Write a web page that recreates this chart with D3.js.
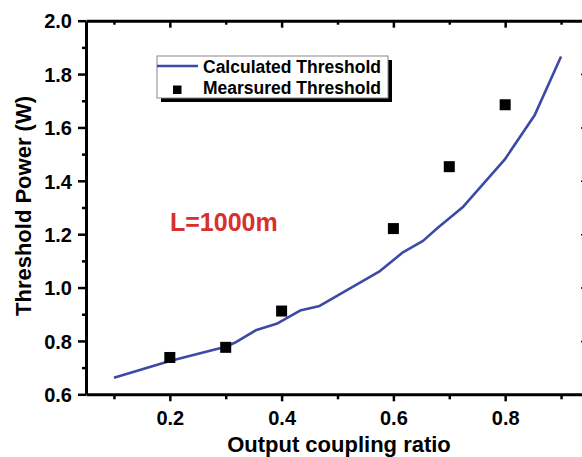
<!DOCTYPE html>
<html>
<head>
<meta charset="utf-8">
<script src="https://cdn.jsdelivr.net/npm/d3@7"></script>
<style>
  html, body { margin: 0; padding: 0; background: #fff; }
  svg { display: block; font-family: "Liberation Sans", Arial, sans-serif; font-weight: bold; }
</style>
</head>
<body>
<div id="chart"></div>
<script>
// Calculated threshold curve (output coupling ratio, threshold power in W)
const calcRatio = [0.1, 0.2, 0.3, 0.316, 0.355, 0.391, 0.433, 0.468, 0.576, 0.617, 0.653, 0.68, 0.725, 0.799, 0.853, 0.9];
const calcPower = [0.662, 0.725, 0.778, 0.793, 0.841, 0.864, 0.914, 0.931, 1.062, 1.132, 1.175, 1.225, 1.303, 1.479, 1.647, 1.866];

// Measured threshold points
const measRatio = [0.2, 0.3, 0.4, 0.6, 0.7, 0.8];
const measPower = [0.738, 0.776, 0.912, 1.221, 1.453, 1.685];

const xMajor = [0.2, 0.4, 0.6, 0.8];
const xMinor = [0.1, 0.3, 0.5, 0.7, 0.9];
const yMajor = [0.6, 0.8, 1.0, 1.2, 1.4, 1.6, 1.8, 2.0];
const yMinor = [0.7, 0.9, 1.1, 1.3, 1.5, 1.7, 1.9];

const legendLabels = ['Calculated Threshold', 'Mearsured Threshold'];
const annotation = 'L=1000m';

const W = 582, H = 457;
const plotL = 86, plotR = 589, plotT = 20.7, plotB = 394.3;
const blue = '#3c4aa6';

const svg = d3.select('#chart').append('svg')
  .attr('width', W).attr('height', H);
svg.append('rect').attr('width', W).attr('height', H).attr('fill', '#fff');

const x = d3.scaleLinear().domain([0.05, 0.95]).range([plotL, plotR]);
const y = d3.scaleLinear().domain([0.6, 2.0]).range([plotB, plotT]);

function styleAxis(g) {
  g.selectAll('path.domain').attr('stroke', '#000').attr('stroke-width', 3);
  g.selectAll('.tick line').attr('stroke', '#000').attr('stroke-width', 2.5);
}

// bottom axis: major with labels, minor without
const gx = svg.append('g').attr('transform', `translate(0,${plotB})`)
  .call(d3.axisBottom(x).tickValues(xMajor).tickSizeInner(7).tickSizeOuter(0).tickFormat(d3.format('.1f')));
gx.selectAll('.tick text')
  .attr('y', 31).attr('dy', 0)
  .attr('font-size', 20).attr('font-family', '"Liberation Sans", Arial, sans-serif')
  .attr('font-weight', 'bold').attr('fill', '#000');
styleAxis(gx);
const gxm = svg.append('g').attr('transform', `translate(0,${plotB})`)
  .call(d3.axisBottom(x).tickValues(xMinor).tickSizeInner(5).tickSizeOuter(0).tickFormat(''));
gxm.select('path.domain').remove();
styleAxis(gxm);

// left axis
const gy = svg.append('g').attr('transform', `translate(${plotL},0)`)
  .call(d3.axisLeft(y).tickValues(yMajor).tickSizeInner(8).tickSizeOuter(0).tickFormat(d3.format('.1f')));
gy.selectAll('.tick text')
  .attr('x', -14).attr('dy', '0.36em')
  .attr('font-size', 20).attr('font-family', '"Liberation Sans", Arial, sans-serif')
  .attr('font-weight', 'bold').attr('fill', '#000');
styleAxis(gy);
const gym = svg.append('g').attr('transform', `translate(${plotL},0)`)
  .call(d3.axisLeft(y).tickValues(yMinor).tickSizeInner(4).tickSizeOuter(0).tickFormat(''));
gym.select('path.domain').remove();
styleAxis(gym);

// top axis, ticks pointing inward
const gt = svg.append('g').attr('transform', `translate(0,${plotT})`)
  .call(d3.axisTop(x).tickValues(xMajor).tickSizeInner(-7).tickSizeOuter(0).tickFormat(''));
styleAxis(gt);
const gtm = svg.append('g').attr('transform', `translate(0,${plotT})`)
  .call(d3.axisTop(x).tickValues(xMinor).tickSizeInner(-4).tickSizeOuter(0).tickFormat(''));
gtm.select('path.domain').remove();
styleAxis(gtm);

// right axis (mostly off canvas), ticks inward
const gr = svg.append('g').attr('transform', `translate(${plotR},0)`)
  .call(d3.axisRight(y).tickValues(yMajor).tickSizeInner(-8).tickSizeOuter(0).tickFormat(''));
styleAxis(gr);
gr.selectAll('.tick line').attr('stroke-width', 1.5);

// axis titles
svg.append('text')
  .attr('x', 339).attr('y', 452)
  .attr('text-anchor', 'middle').attr('font-size', 22).attr('fill', '#000')
  .text('Output coupling ratio');
svg.append('text')
  .attr('transform', 'translate(31,206) rotate(-90)')
  .attr('text-anchor', 'middle').attr('font-size', 22).attr('fill', '#000')
  .text('Threshold Power (W)');

// calculated curve
const line = d3.line().x(d => x(d[0])).y(d => y(d[1]));
svg.append('path')
  .datum(d3.zip(calcRatio, calcPower))
  .attr('d', line)
  .attr('fill', 'none').attr('stroke', blue).attr('stroke-width', 2.6)
  .attr('stroke-linejoin', 'round');

// measured squares
const sq = 11;
svg.append('g').selectAll('rect')
  .data(d3.zip(measRatio, measPower))
  .join('rect')
  .attr('x', d => x(d[0]) - sq / 2).attr('y', d => y(d[1]) - sq / 2)
  .attr('width', sq).attr('height', sq).attr('fill', '#000');

// annotation
svg.append('text')
  .attr('x', 170).attr('y', 231)
  .attr('font-size', 25).attr('fill', '#d8302c')
  .text(annotation);

// legend with drop shadow
const lg = svg.append('g').attr('transform', 'translate(157,56)');
lg.append('rect').attr('x', 4).attr('y', 4).attr('width', 231).attr('height', 42).attr('fill', '#000');
lg.append('rect').attr('x', 0).attr('y', 0).attr('width', 231).attr('height', 42)
  .attr('fill', '#fff').attr('stroke', '#888').attr('stroke-width', 1);
lg.append('line').attr('x1', 0).attr('x2', 41).attr('y1', 10).attr('y2', 10)
  .attr('stroke', blue).attr('stroke-width', 2.6);
lg.append('rect').attr('x', 16).attr('y', 29.5).attr('width', 8.5).attr('height', 8.5).attr('fill', '#000');
lg.selectAll('text.leg')
  .data(legendLabels)
  .join('text')
  .attr('class', 'leg')
  .attr('x', 46).attr('y', (d, i) => 16.5 + i * 21.5)
  .attr('font-size', 17.5).attr('fill', '#000')
  .text(d => d);
</script>
</body>
</html>
